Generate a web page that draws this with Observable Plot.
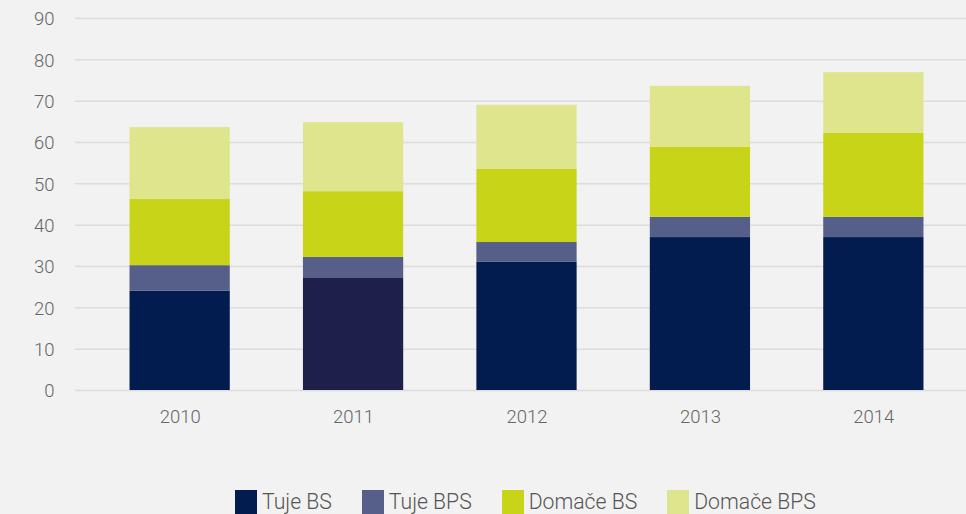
<!DOCTYPE html>
<html>
<head>
<meta charset="utf-8">
<script src="https://cdn.jsdelivr.net/npm/d3@7"></script>
<script src="https://cdn.jsdelivr.net/npm/@observablehq/plot@0.6"></script>
<style>
  html, body { margin: 0; padding: 0; background: #f2f2f2; }
  body { width: 966px; height: 514px; overflow: hidden; font-family: Roboto, "Noto Sans", sans-serif; }
  #legend { display: flex; align-items: center; padding-left: 235px; margin-top: 39px; }
  .item { display: flex; align-items: center; margin-right: 30px; color: #555; font-size: 21.2px; font-weight: 300; }
  .sw { width: 22px; height: 24px; margin-right: 5px; }
</style>
</head>
<body>
<div id="chart"></div>
<div id="legend"></div>
<script>
const years = ["2010", "2011", "2012", "2013", "2014"];
const seriesNames = ["Tuje BS", "Tuje BPS", "Domače BS", "Domače BPS"];
const tujeBS    = [24.0, 27.1, 31.0, 37.0, 37.0];
const tujeBPS   = [6.2, 5.1, 4.8, 4.9, 4.9];
const domaceBS  = [16.0, 15.9, 17.7, 16.9, 20.3];
const domaceBPS = [17.4, 16.7, 15.5, 14.8, 14.7];
const yTicks = [0, 10, 20, 30, 40, 50, 60, 70, 80, 90];

const colors = ["#021c50", "#565e8a", "#c8d417", "#dfe58c"];
const seriesValues = [tujeBS, tujeBPS, domaceBS, domaceBPS];

const data = [];
seriesNames.forEach((s, si) => {
  years.forEach((y, yi) => data.push({year: y, series: s, value: seriesValues[si][yi]}));
});

const fillFor = d => (d.series === "Tuje BS" && d.year === "2011") ? "#1f1f4b" : colors[seriesNames.indexOf(d.series)];

const chart = Plot.plot({
  width: 966,
  height: 450,
  marginLeft: 75,
  marginRight: 0,
  marginTop: 18,
  marginBottom: 60,
  style: { background: "#f2f2f2", fontFamily: "Roboto, sans-serif", fontSize: "18.5px", fontWeight: 300, color: "#666" },
  x: { domain: years, range: [77.5, 975.5], paddingInner: 0.422, paddingOuter: 0.3, round: false, label: null },
  y: { domain: [0, 90], ticks: yTicks, label: null },
  color: { type: "identity" },
  marks: [
    Plot.ruleY(yTicks, { stroke: "#dcdcdc", strokeWidth: 1.5 }),
    Plot.barY(data, Plot.stackY({ x: "year", y: "value", z: "series", fill: fillFor, order: null })),
    Plot.axisY({ ticks: yTicks, tickSize: 0, tickPadding: 21, label: null, dy: 1 }),
    Plot.axisX({ tickSize: 0, tickPadding: 19, label: null })
  ]
});
document.getElementById("chart").appendChild(chart);

const legend = document.getElementById("legend");
seriesNames.forEach((s, i) => {
  const item = document.createElement("div");
  item.className = "item";
  const sw = document.createElement("div");
  sw.className = "sw";
  sw.style.background = colors[i];
  const t = document.createElement("span");
  t.textContent = s;
  item.appendChild(sw);
  item.appendChild(t);
  legend.appendChild(item);
});
</script>
</body>
</html>
